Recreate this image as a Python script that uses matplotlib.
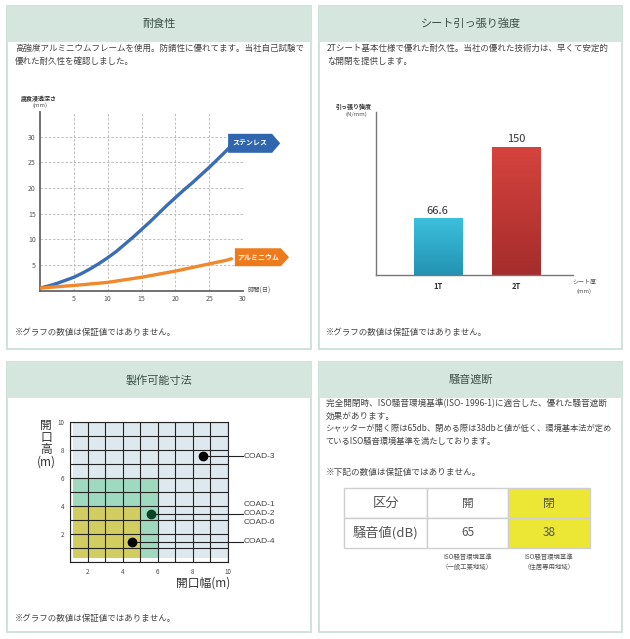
import matplotlib
matplotlib.use('Agg')
import matplotlib.pyplot as plt
from matplotlib.patches import Rectangle, Polygon
from matplotlib.colors import LinearSegmentedColormap
import numpy as np

plt.rcParams['font.family'] = ['Noto Sans CJK JP', 'DejaVu Sans']

W, H = 630, 639

# corrosion depth (mm) against days
days = [0, 1.25, 2.5, 3.75, 5, 6.25, 7.5, 8.75, 10, 11.25, 12.5, 13.75, 15, 16.25,
        17.5, 18.75, 20, 21.25, 22.5, 23.75, 25, 26.25, 27.5, 28.3]
stainless = [0.5, 0.9, 1.4, 2.0, 2.6, 3.4, 4.3, 5.3, 6.4, 7.6, 9.0, 10.4, 11.9, 13.4,
             15.0, 16.6, 18.1, 19.6, 21.0, 22.5, 24.0, 25.6, 27.2, 28.3]
aluminium = [0.5, 0.62, 0.75, 0.88, 1.0, 1.15, 1.3, 1.45, 1.6, 1.85, 2.1, 2.35, 2.6, 2.9,
             3.2, 3.5, 3.8, 4.15, 4.5, 4.85, 5.2, 5.55, 5.9, 6.2]

# sheet tensile strength (N/mm)
sheet_labels = ['1T', '2T']
sheet_strength = [66.6, 150]

# producible sizes: zones (max width, max height) and models
zone_w = [10, 6, 5]
zone_h = [10, 6, 4]
zone_colors = ['#dde9ee', '#9fd9c0', '#d2cd60']
model_names = ['COAD-3', 'COAD-2', 'COAD-4']
model_w = [8.6, 5.6, 4.55]
model_h = [7.55, 3.45, 1.45]
model_colors = ['black', '#0b4424', 'black']

# noise table
noise_head = ['区分', '開', '閉']
noise_row = ['騒音値(dB)', '65', '38']
noise_notes = ['ISO騒音環境基準\n（一般工業地域）', 'ISO騒音環境基準\n（住居専用地域）']

note = '※グラフの数値は保証値ではありません。'
txt_col = '#444444'

fig = plt.figure(figsize=(W / 100, H / 100), dpi=100)
bg = fig.add_axes([0, 0, 1, 1])
bg.set_xlim(0, W)
bg.set_ylim(H, 0)
bg.axis('off')


def px_axes(l, t, r, b):
    return fig.add_axes([l / W, 1 - b / H, (r - l) / W, (b - t) / H])


def panel(x0, y0, x1, y1, title):
    bg.add_patch(Rectangle((x0, y0), x1 - x0, y1 - y0, fc='white', ec='#cfe3da', lw=1.4))
    bg.add_patch(Rectangle((x0, y0), x1 - x0, 36, fc='#d4e6dd', ec='none'))
    bg.text((x0 + x1) / 2, y0 + 18, title, ha='center', va='center', fontsize=8, color='#3c5046')


panel(7, 6, 311, 349, '耐食性')
panel(319, 6, 622, 349, 'シート引っ張り強度')
panel(7, 362, 311, 632, '製作可能寸法')
panel(319, 362, 622, 632, '騒音遮断')

bg.text(15, 55, '高強度アルミニウムフレームを使用。防錆性に優れてます。当社自己試験で\n優れた耐久性を確認しました。',
        fontsize=6.15, color=txt_col, va='center', linespacing=1.6)
bg.text(327, 55, '2Tシート基本仕様で優れた耐久性。当社の優れた技術力は、早くて安定的\nな開閉を提供します。',
        fontsize=6.15, color=txt_col, va='center', linespacing=1.6)
for x, y in [(15, 332), (326, 332), (15, 619)]:
    bg.text(x, y, note, fontsize=6.1, color=txt_col, va='center')

# ---- panel 1: corrosion curves
ax1 = px_axes(40, 112, 243, 290.6)
ax1.set_xlim(0, 30)
ax1.set_ylim(0, 34.8)
ax1.set_xticks([5, 10, 15, 20, 25, 30])
ax1.set_yticks([5, 10, 15, 20, 25, 30])
ax1.grid(True, ls=(0, (3, 2)), color='#b5b5b5', lw=0.6)
ax1.tick_params(length=0, labelsize=5, colors='#555555', pad=3)
for s in ['top', 'right']:
    ax1.spines[s].set_visible(False)
for s in ['left', 'bottom']:
    ax1.spines[s].set_color('#666666')
    ax1.spines[s].set_linewidth(1.3)
ax1.plot(days, stainless, color='#3b6db4', lw=2.4, solid_capstyle='round',
         solid_joinstyle='round', zorder=3)
ax1.plot(days, aluminium, color='#f0882c', lw=2.4, solid_capstyle='round',
         solid_joinstyle='round', zorder=3)


def tag(ax, left, cy, w, h, tip, color, label):
    pts = [(left, cy - h / 2), (left + w - tip, cy - h / 2), (left + w, cy),
           (left + w - tip, cy + h / 2), (left, cy + h / 2)]
    ax.add_patch(Polygon(pts, closed=True, fc=color, ec='none', clip_on=False, zorder=4))
    ax.text(left + (w - tip) / 2, cy, label, color='white', fontsize=5, weight='bold',
            ha='center', va='center', clip_on=False, zorder=5)


tag(ax1, days[-1] - 0.5, stainless[-1] + 0.4, 7.7, 3.7, 1.2, '#2f66ae', 'ステンレス')
tag(ax1, days[-1] + 0.5, aluminium[-1] + 0.3, 8.0, 3.5, 1.2, '#ee7a1e', 'アルミニウム')
bg.text(39, 98, '腐食浸透深さ', fontsize=4.3, weight='bold', color='#333333', ha='center', va='center')
bg.text(40, 105, '(mm)', fontsize=4.3, color='#555555', ha='center', va='center')
bg.text(248, 291, '時間(日)', fontsize=4.5, color='#555555', va='center')

# ---- panel 2: tensile strength bars
ax2 = px_axes(376, 112, 573, 275)
for s in ['top', 'right']:
    ax2.spines[s].set_visible(False)
for s in ['left', 'bottom']:
    ax2.spines[s].set_color('#777777')
    ax2.spines[s].set_linewidth(1.0)
ax2.set_yticks([])
ax2.set_xticks(range(len(sheet_labels)))
ax2.set_xticklabels(sheet_labels, fontsize=5.5, weight='bold', color='#333333')
ax2.tick_params(axis='x', length=0, pad=5)
bar_cols = [('#2393b3', '#3dbfdd'), ('#a52d2c', '#d6433e')]
bars = ax2.bar(range(len(sheet_labels)), sheet_strength, width=0.615, color='none', edgecolor='none')
for b, (c0, c1), v in zip(bars, bar_cols, sheet_strength):
    cmap = LinearSegmentedColormap.from_list('g', [c0, c1])
    x0, w = b.get_x(), b.get_width()
    grad = np.linspace(0, 1, 100).reshape(-1, 1)
    im = ax2.imshow(grad, cmap=cmap, origin='lower', aspect='auto',
                    extent=[x0, x0 + w, 0, v], zorder=2)
    im.set_clip_path(b)
    ax2.text(b.get_x() + w / 2, v + 3, f'{v:g}', ha='center', va='bottom', fontsize=8, color='#333333')
ax2.set_xlim(-0.79, 1.73)
ax2.set_ylim(0, 191)
bg.text(354, 106, '引っ張り強度', fontsize=4.3, weight='bold', color='#333333', ha='center', va='center')
bg.text(356, 114, '(N/mm)', fontsize=4.3, color='#555555', ha='center', va='center')
bg.text(584, 282, 'シート厚', fontsize=4.3, color='#555555', ha='center', va='center')
bg.text(584, 291, '(mm)', fontsize=4.3, color='#555555', ha='center', va='center')

# ---- panel 3: producible size grid
ax3 = px_axes(70, 422, 228, 562)
ax3.set_xlim(1, 10)
ax3.set_ylim(0, 10)
for zw, zh, zc in zip(zone_w, zone_h, zone_colors):
    ax3.add_patch(Rectangle((1.15, 0.3), zw - 1.15, zh - 0.3, fc=zc, ec='none', zorder=1))
for v in range(1, 11):
    ax3.axvline(v, color='#222222', lw=0.8, zorder=2)
for v in range(0, 11):
    ax3.axhline(v, color='#222222', lw=0.8, zorder=2)
for s in ax3.spines.values():
    s.set_color('#222222')
    s.set_linewidth(0.8)
ax3.set_xticks([2, 4, 6, 8, 10])
ax3.set_yticks([2, 4, 6, 8, 10])
ax3.tick_params(length=0, labelsize=4.5, colors='#444444', pad=4)
for name, mx, my, mc in zip(model_names, model_w, model_h, model_colors):
    ax3.plot([mx, 10.85], [my, my], color='#222222', lw=0.8, clip_on=False, zorder=3)
    ax3.plot(mx, my, 'o', color=mc, ms=6, zorder=4)
    ax3.text(10.9, my, name, fontsize=6, color='#444444', va='center', clip_on=False,
             family=['Liberation Sans', 'DejaVu Sans'])
ax3.text(10.9, model_h[1] + 0.65, 'COAD-1', fontsize=6, color='#444444', va='center', clip_on=False,
         family=['Liberation Sans', 'DejaVu Sans'])
ax3.text(10.9, model_h[1] - 0.65, 'COAD-6', fontsize=6, color='#444444', va='center', clip_on=False,
         family=['Liberation Sans', 'DejaVu Sans'])
for ch, y in zip(['開', '口', '高'], [425, 437, 449]):
    bg.text(46, y, ch, fontsize=8.5, color='#333333', ha='center', va='center')
bg.text(46, 462, '(m)', fontsize=8.5, color='#333333', ha='center', va='center')
bg.text(230, 583, '開口幅(m)', fontsize=8.5, color='#333333', ha='right', va='center')

# ---- panel 4: noise text and table
bg.text(326, 410, '完全開閉時、ISO騒音環境基準(ISO- 1996-1)に適合した、優れた騒音遮断\n効果があります。',
        fontsize=6.2, color=txt_col, va='center', linespacing=1.6)
bg.text(325, 435, 'シャッターが開く際は65db、閉める際は38dbと値が低く、環境基本法が定め\nているISO騒音環境基準を満たしております。',
        fontsize=5.95, color=txt_col, va='center', linespacing=1.65)
bg.text(326, 472, '※下記の数値は保証値ではありません。', fontsize=6.2, color=txt_col, va='center')

col_edges = [344, 427, 508, 590]
row_edges = [488, 518, 548]
for r, row in enumerate([noise_head, noise_row]):
    for c, val in enumerate(row):
        x0, x1 = col_edges[c], col_edges[c + 1]
        y0, y1 = row_edges[r], row_edges[r + 1]
        fc = '#ebe734' if c == 2 else 'white'
        bg.add_patch(Rectangle((x0, y0), x1 - x0, y1 - y0, fc=fc, ec='#cfcfcf', lw=1))
        fs = 9.5 if c == 0 else 8.5
        bg.text((x0 + x1) / 2, (y0 + y1) / 2, val, ha='center', va='center', fontsize=fs, color='#555555')
for c, t in enumerate(noise_notes):
    bg.text((col_edges[c + 1] + col_edges[c + 2]) / 2, 562, t, ha='center', va='center',
            fontsize=4.6, color='#555555', linespacing=1.4)

fig.savefig('out.png', dpi=100)
